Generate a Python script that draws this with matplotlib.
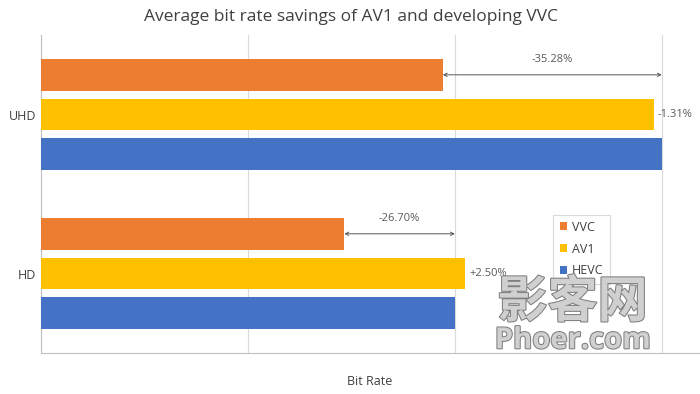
import matplotlib
matplotlib.use("Agg")
import matplotlib.pyplot as plt
import matplotlib.patheffects as pe
import numpy as np

plt.rcParams["font.family"] = ["Open Sans", "DejaVu Sans"]

CATEGORIES = ["HD", "UHD"]
CODECS = ["VVC", "AV1", "HEVC"]
HEVC = [2.0, 3.0]
AV1 = [2.05, 2.9607]
VVC = [1.466, 1.9416]
AV1_LABELS = ["+2.50%", "-1.31%"]
VVC_LABELS = ["-26.70%", "-35.28%"]
COLORS = {"VVC": "#ED7D31", "AV1": "#FFC000", "HEVC": "#4472C4"}

fig = plt.figure(figsize=(7.0, 3.94), dpi=100)
ax = fig.add_axes([0.0586, 0.104, 0.94, 0.807])

y = np.arange(len(CATEGORIES))
offsets = {"VVC": 0.25, "AV1": 0.0, "HEVC": -0.25}
values = {"VVC": VVC, "AV1": AV1, "HEVC": HEVC}
for codec in CODECS:
    ax.barh(y + offsets[codec], values[codec], height=0.2, color=COLORS[codec], label=codec, zorder=3)

ax.set_xlim(0, 3.18)
ax.set_ylim(-0.5, 1.5)
ax.set_yticks(y)
ax.set_yticklabels(CATEGORIES, fontsize=9, color="#404040")
ax.set_xticks([0, 1, 2, 3])
ax.set_xticklabels([])
ax.tick_params(length=0)
ax.grid(axis="x", color="#D9D9D9", linewidth=0.8, zorder=0)
for side in ["top", "right"]:
    ax.spines[side].set_visible(False)
ax.spines["left"].set_color("#BFBFBF")
ax.spines["bottom"].set_color("#BFBFBF")
ax.set_xlabel("Bit Rate", fontsize=9, color="#404040", labelpad=12)

for i in range(len(CATEGORIES)):
    # arrow from VVC end to HEVC end
    ax.annotate("", xy=(HEVC[i], y[i] + 0.25), xytext=(VVC[i], y[i] + 0.25),
                arrowprops=dict(arrowstyle="<->", color="#595959", lw=0.7, shrinkA=0, shrinkB=0,
                                mutation_scale=6), zorder=4)
    ax.text((HEVC[i] + VVC[i]) / 2, y[i] + 0.31, VVC_LABELS[i], ha="center", va="bottom",
            fontsize=8, color="#595959", zorder=4)
    ax.text(AV1[i] + 0.02, y[i], AV1_LABELS[i], ha="left", va="center",
            fontsize=8, color="#595959", zorder=4)

leg = ax.legend(loc="upper left", bbox_to_anchor=(0.769, 0.455), fontsize=9, frameon=True,
                handlelength=0.6, handleheight=0.6, borderpad=0.5, labelspacing=0.7,
                handletextpad=0.4, fancybox=False, framealpha=1)
leg.get_frame().set_edgecolor("#D9D9D9")
leg.get_frame().set_linewidth(0.8)
leg.set_zorder(5)
for t in leg.get_texts():
    t.set_color("#404040")

fig.text(0.501, 0.957, "Average bit rate savings of AV1 and developing VVC", ha="center", va="center",
         fontsize=12.5, color="#404040")

# watermark
wm = dict(color="#D0D0D0", path_effects=[pe.withStroke(linewidth=1.5, foreground="#7F7F7F")], zorder=6)
fig.text(0.818, 0.232, "影客网", ha="center", va="center", fontsize=36,
         family=["Noto Sans CJK SC", "DejaVu Sans"], fontweight="bold", **wm)
fig.text(0.818, 0.135, "Phoer.com", ha="center", va="center", fontsize=21, fontweight="bold", **wm)

fig.savefig("out.png", dpi=100)
